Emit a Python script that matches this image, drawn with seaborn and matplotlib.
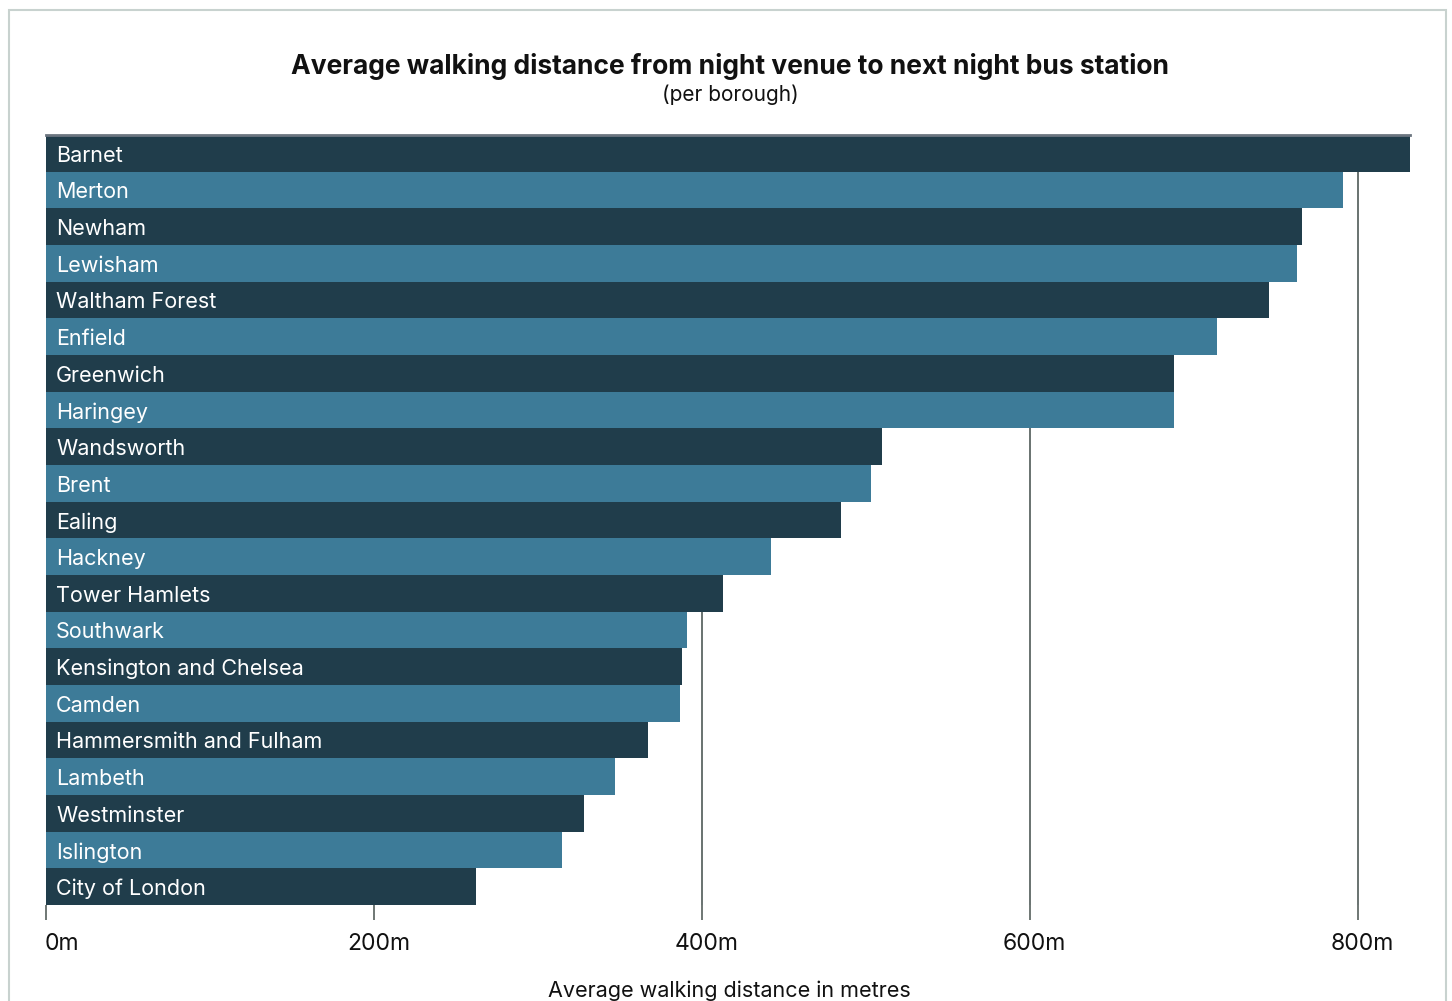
import matplotlib
matplotlib.use("Agg")
import matplotlib.pyplot as plt
import matplotlib.transforms as mtransforms
import seaborn as sns
from matplotlib.patches import Rectangle

boroughs = [
    "Barnet", "Merton", "Newham", "Lewisham", "Waltham Forest", "Enfield",
    "Greenwich", "Haringey", "Wandsworth", "Brent", "Ealing", "Hackney",
    "Tower Hamlets", "Southwark", "Kensington and Chelsea", "Camden",
    "Hammersmith and Fulham", "Lambeth", "Westminster", "Islington",
    "City of London",
]
distance_m = [
    832, 791, 766, 763, 746, 714, 688, 688, 510, 503, 485, 442,
    413, 391, 388, 387, 367, 347, 328, 315, 262,
]
tick_values = [0, 200, 400, 600, 800]
tick_labels = ["0m", "200m", "400m", "600m", "800m"]

DARK = "#203d4b"
TEAL = "#3d7b98"
bar_colors = [DARK if i % 2 == 0 else TEAL for i in range(len(boroughs))]

sns.set_theme(style="white")
plt.rcParams["font.family"] = ["Inter", "DejaVu Sans"]

fig = plt.figure(figsize=(14.52, 10.01), dpi=100)
ax = fig.add_axes([46 / 1452, 1 - 905 / 1001, (1410 - 46) / 1452, (905 - 135) / 1001])

# vertical grid lines sit behind the bars
for v in tick_values[1:]:
    ax.axvline(v, color="#4f5a58", lw=1.2, zorder=0)

sns.barplot(
    x=distance_m, y=boroughs, hue=boroughs, palette=bar_colors,
    legend=False, width=1.0, saturation=1, orient="h", ax=ax, zorder=2,
    linewidth=0,
)

ax.set_xlim(0, max(distance_m))
ax.set_ylim(len(boroughs) - 0.5, -0.5)
ax.set_yticks([])
ax.set_ylabel("")
ax.set_xlabel("")
ax.set_xticks(tick_values)
ax.set_xticklabels(tick_labels, fontsize=16.5, color="#111111")
ax.tick_params(axis="x", direction="out", length=11, width=1.4,
               color="#6f7774", pad=9, bottom=True)
shift = mtransforms.ScaledTranslation(5 / 100, 0, fig.dpi_scale_trans)
labels = ax.get_xticklabels()
labels[0].set_horizontalalignment("left")
labels[0].set_transform(labels[0].get_transform()
                        + mtransforms.ScaledTranslation(-1 / 100, 0, fig.dpi_scale_trans))
for lbl in labels[1:]:
    lbl.set_horizontalalignment("center")
    lbl.set_transform(lbl.get_transform() + shift)

for side in ["left", "right", "bottom"]:
    ax.spines[side].set_visible(False)
ax.spines["top"].set_color("#6b7580")
ax.spines["top"].set_linewidth(2)
ax.spines["top"].set_zorder(5)

# borough names inside each bar
for i, name in enumerate(boroughs):
    ax.annotate(name, xy=(0, i), xytext=(7.2, -1.8), textcoords="offset points",
                ha="left", va="center", color="white", fontsize=15.5, zorder=4)

fig.text(730 / 1452, 1 - 66 / 1001,
         "Average walking distance from night venue to next night bus station",
         ha="center", va="center", fontsize=19, fontweight="bold", color="#111111")
fig.text(730 / 1452, 1 - 95 / 1001, "(per borough)",
         ha="center", va="center", fontsize=15, color="#111111")
fig.text(729 / 1452, 1 - 997 / 1001, "Average walking distance in metres",
         ha="center", va="baseline", fontsize=15.5, color="#111111")

# outer frame
fig.patches.append(Rectangle((9 / 1452, -0.05), (1446 - 9) / 1452, 1.05 - 10 / 1001,
                             transform=fig.transFigure, fill=False,
                             edgecolor="#c8d2cf", lw=1.5))

fig.savefig("out.png", dpi=100)
